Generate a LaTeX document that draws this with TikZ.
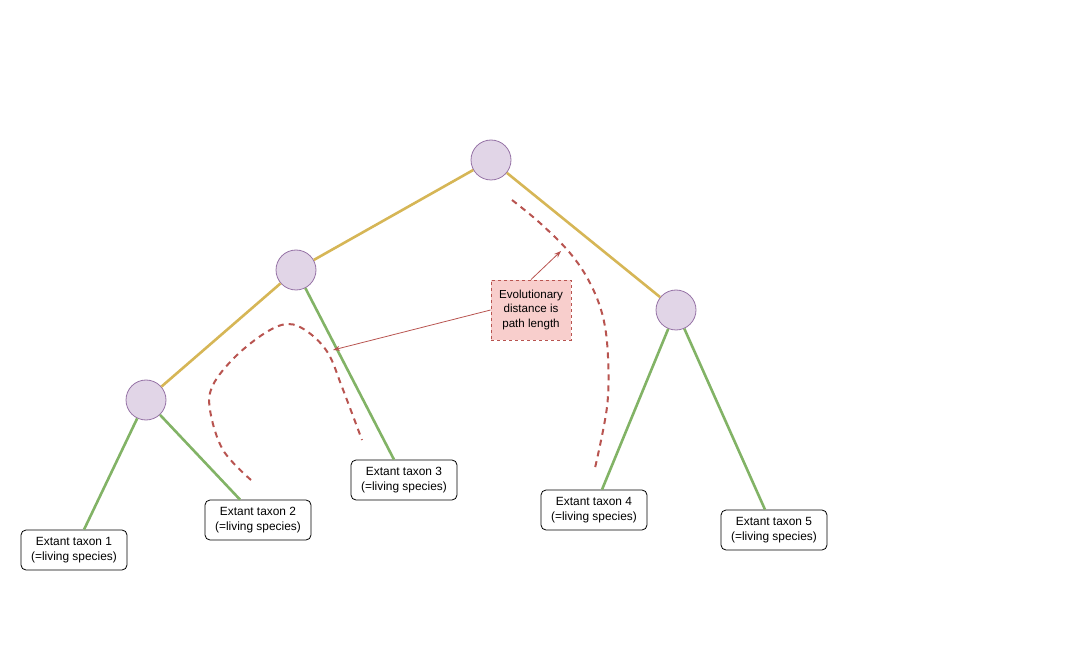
\documentclass[tikz,border=0pt]{standalone}
\usepackage{fontspec}
\setmainfont{Liberation Sans}
\usepackage{tikz}
\usetikzlibrary{arrows.meta,calc}

\definecolor{nodefill}{HTML}{E1D5E7}
\definecolor{nodeline}{HTML}{9673A6}
\definecolor{trunk}{HTML}{D6B656}
\definecolor{leafline}{HTML}{82B366}
\definecolor{notefill}{HTML}{F8CECC}
\definecolor{noteline}{HTML}{B85450}

\begin{document}
\begin{tikzpicture}[x=1pt, y=-1pt,
        ancestor/.style={circle, minimum size=40pt, inner sep=0pt, fill=nodefill, draw=nodeline, line width=0.8pt},
        taxon/.style={rectangle, rounded corners=5pt, minimum width=106pt, minimum height=40pt, inner sep=1pt,
            draw=black, line width=0.8pt, fill=white, align=center, font=\fontsize{11.9}{15}\selectfont},
        note/.style={rectangle, minimum width=80pt, minimum height=60pt, inner sep=1pt, fill=notefill,
            draw=noteline, dash pattern=on 3pt off 3pt, line width=0.8pt, align=center, font=\fontsize{11.6}{14.7}\selectfont},
        inner branch/.style={draw=trunk, line width=2.6pt},
        outer branch/.style={draw=leafline, line width=2.6pt},
        path len/.style={draw=noteline, line width=2pt, dash pattern=on 6pt off 5pt},
        pointer/.style={draw=noteline, line width=0.8pt, -{Stealth[length=7pt,width=5pt]}}]
    \useasboundingbox (0,0) rectangle (1072,671);

    % internal nodes
    \node [ancestor] (root) at (491,160) {};
    \node [ancestor] (n2) at (296,270) {};
    \node [ancestor] (n3) at (676,310) {};
    \node [ancestor] (n1) at (146,400) {};

    % leaves
    \node [taxon] (t1) at (74,550) {Extant taxon 1\\(=living species)};
    \node [taxon] (t2) at (258,520) {Extant taxon 2\\(=living species)};
    \node [taxon] (t3) at (404,480) {Extant taxon 3\\(=living species)};
    \node [taxon] (t4) at (594,510) {Extant taxon 4\\(=living species)};
    \node [taxon] (t5) at (774,530) {Extant taxon 5\\(=living species)};

    \node [note] (dist) at (531,310) {Evolutionary\\distance is\\path length};

    \draw [inner branch] (root) -- (n2);
    \draw [inner branch] (root) -- (n3);
    \draw [inner branch] (n2) -- (n1);
    \draw [outer branch] (n1) -- ([xshift=10pt]t1.north);
    \draw [outer branch] (n1) -- ([xshift=-18pt]t2.north);
    \draw [outer branch] (n2) -- ([xshift=-10pt]t3.north);
    \draw [outer branch] (n3) -- ([xshift=8pt]t4.north);
    \draw [outer branch] (n3) -- ([xshift=-9pt]t5.north);

    % path lengths
    \draw [path len] plot [smooth, tension=0.6] coordinates {(251,480) (223,450) (210,410) (213,385) (235,357) (265,333) (288,324) (308,332) (328,353) (342,387) (362,440)};
    \draw [path len] plot [smooth, tension=0.6] coordinates {(512,200) (540,223) (570,253) (590,283) (603,317) (608,357) (607,407) (595,468)};

    \coordinate (tipA) at (333,350);
    \coordinate (tipB) at (561,251);
    \draw [pointer] (dist.west) -- (tipA);
    \draw [pointer] (dist.north) -- (tipB);
\end{tikzpicture}
\end{document}
